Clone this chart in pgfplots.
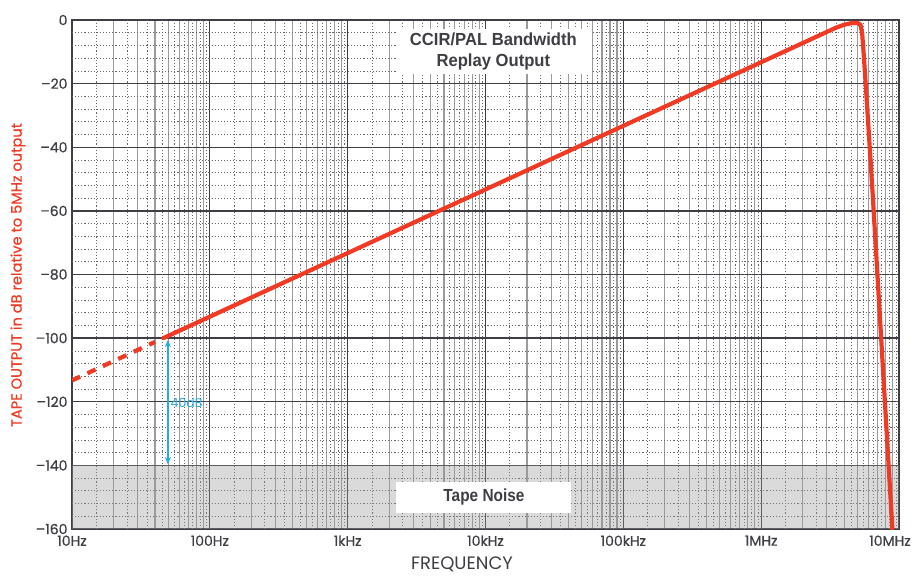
\documentclass[border=0pt]{standalone}
\usepackage{pgfplots}
\pgfplotsset{compat=1.18}
\usetikzlibrary{arrows.meta}
\usepackage{fontspec}
\setmainfont{Poppins}
\newfontfamily\popmed[FakeBold=0.7]{Poppins}
\newfontfamily\condA[FakeStretch=0.95]{Liberation Sans}
\newfontfamily\condB[FakeStretch=0.88]{Liberation Sans}
\definecolor{tapered}{RGB}{240,58,36}
\definecolor{arrowblue}{RGB}{38,170,226}
\definecolor{axgray}{RGB}{62,62,68}
\definecolor{mingray}{RGB}{155,155,158}
\begin{document}
\begin{tikzpicture}[x=1pt,y=1pt]
\useasboundingbox (-72,-47) rectangle (843,529);
\begin{axis}[
  at={(0,0)}, anchor=south west,
  scale only axis, width=827pt, height=509pt,
  xmode=log, xmin=10, xmax=1e7, ymin=-160, ymax=0,
  log basis x=10,
  xtick={10,100,1000,10000,100000,1000000,10000000},
  xticklabels={10Hz,100Hz,1kHz,10kHz,100kHz,1MHz,\hspace*{-18pt}10MHz},
  ytick={-160,-140,-120,-100,-80,-60,-40,-20,0},
  yticklabels={–160,–140,–120,–100,–80,–60,–40,–20,0},
  minor xtick={2e1,3e1,4e1,5e1,6e1,7e1,8e1,9e1,
               2e2,3e2,4e2,5e2,6e2,7e2,8e2,9e2,
               2e3,3e3,4e3,5e3,6e3,7e3,8e3,9e3,
               2e4,3e4,4e4,5e4,6e4,7e4,8e4,9e4,
               2e5,3e5,4e5,5e5,6e5,7e5,8e5,9e5,
               2e6,3e6,4e6,5e6,6e6,7e6,8e6,9e6},
  extra x ticks={1.5e1,2.5e1,3.5e1,4.5e1,5.5e1,6.5e1,7.5e1,8.5e1,9.5e1,
                 1.5e2,2.5e2,3.5e2,4.5e2,5.5e2,6.5e2,7.5e2,8.5e2,9.5e2,
                 1.5e3,2.5e3,3.5e3,4.5e3,5.5e3,6.5e3,7.5e3,8.5e3,9.5e3,
                 1.5e4,2.5e4,3.5e4,4.5e4,5.5e4,6.5e4,7.5e4,8.5e4,9.5e4,
                 1.5e5,2.5e5,3.5e5,4.5e5,5.5e5,6.5e5,7.5e5,8.5e5,9.5e5,
                 1.5e6,2.5e6,3.5e6,4.5e6,5.5e6,6.5e6,7.5e6,8.5e6,9.5e6},
  extra x tick labels={},
  extra y ticks={-156,-152,-148,-144,-136,-132,-128,-124,-116,-112,-108,-104,
                 -96,-92,-88,-84,-76,-72,-68,-64,-56,-52,-48,-44,-36,-32,-28,-24,
                 -16,-12,-8,-4},
  extra y tick labels={},
  extra tick style={major grid style={gray!80!black, line width=0.7pt, dash pattern=on 1.1pt off 2pt}, major tick length=0pt},
  xmajorgrids, ymajorgrids, xminorgrids,
  major grid style={axgray, line width=1.3pt},
  minor grid style={mingray, line width=1.1pt},
  major tick length=0pt, minor tick length=0pt,
  axis line style={axgray, line width=1.6pt},
  tick label style={font=\popmed\fontsize{14}{16}\selectfont, text=axgray},
  xticklabel style={yshift=-3pt},
  yticklabel style={xshift=-1pt},
  clip=true,
]
% tape noise band
\addplot[draw=none, fill=black!40, fill opacity=0.36] coordinates {(10,-160) (1e7,-160) (1e7,-140) (10,-140)} -- cycle;
% dashed extrapolation
\addplot[tapered, line width=4.2pt, dash pattern=on 9pt off 8pt] coordinates {(10,-113.3) (40,-101.2)};
% measured response
\addplot[tapered, line width=4.2pt, line join=round, line cap=round] coordinates {
  (46,-100) (3.5e6,-2.4) (4.0e6,-1.5) (4.5e6,-1.0) (5.0e6,-0.9) (5.25e6,-1.5)
  (5.4e6,-4) (5.55e6,-11) (5.83e6,-25) (6.49e6,-57) (8.95e6,-160)};
% 40 dB arrow
\addplot[arrowblue, line width=1.4pt, {Stealth[length=7pt,width=6pt]}-{Stealth[length=7pt,width=6pt]}] coordinates {(49.6,-100.6) (49.6,-139.6)};
\node[anchor=west, text=arrowblue, font=\fontsize{12.5}{14}\selectfont, inner sep=1pt] at (axis cs:51,-120.5) {40dB};
% boxes
\node[fill=white, minimum width=195pt, minimum height=45pt, align=center, inner sep=0pt,
      font=\condA\bfseries\fontsize{17.5}{21}\selectfont, text=axgray] at (axis cs:1.14e4,-10) {CCIR/PAL Bandwidth\\Replay Output};
\node[fill=white, minimum width=175pt, minimum height=31pt, inner sep=0pt,
      font=\condB\bfseries\fontsize{17.5}{20}\selectfont, text=axgray] at (axis cs:9.75e3,-150) {Tape Noise};
\end{axis}
\node[rotate=90, text=tapered, font=\popmed\fontsize{14.6}{16}\selectfont] at (-54,254) {TAPE OUTPUT in dB relative to 5MHz output};
\node[anchor=base, text=axgray, font=\fontsize{18}{20}\selectfont] at (390,-40.5) {FREQUENCY};
\end{tikzpicture}
\end{document}
